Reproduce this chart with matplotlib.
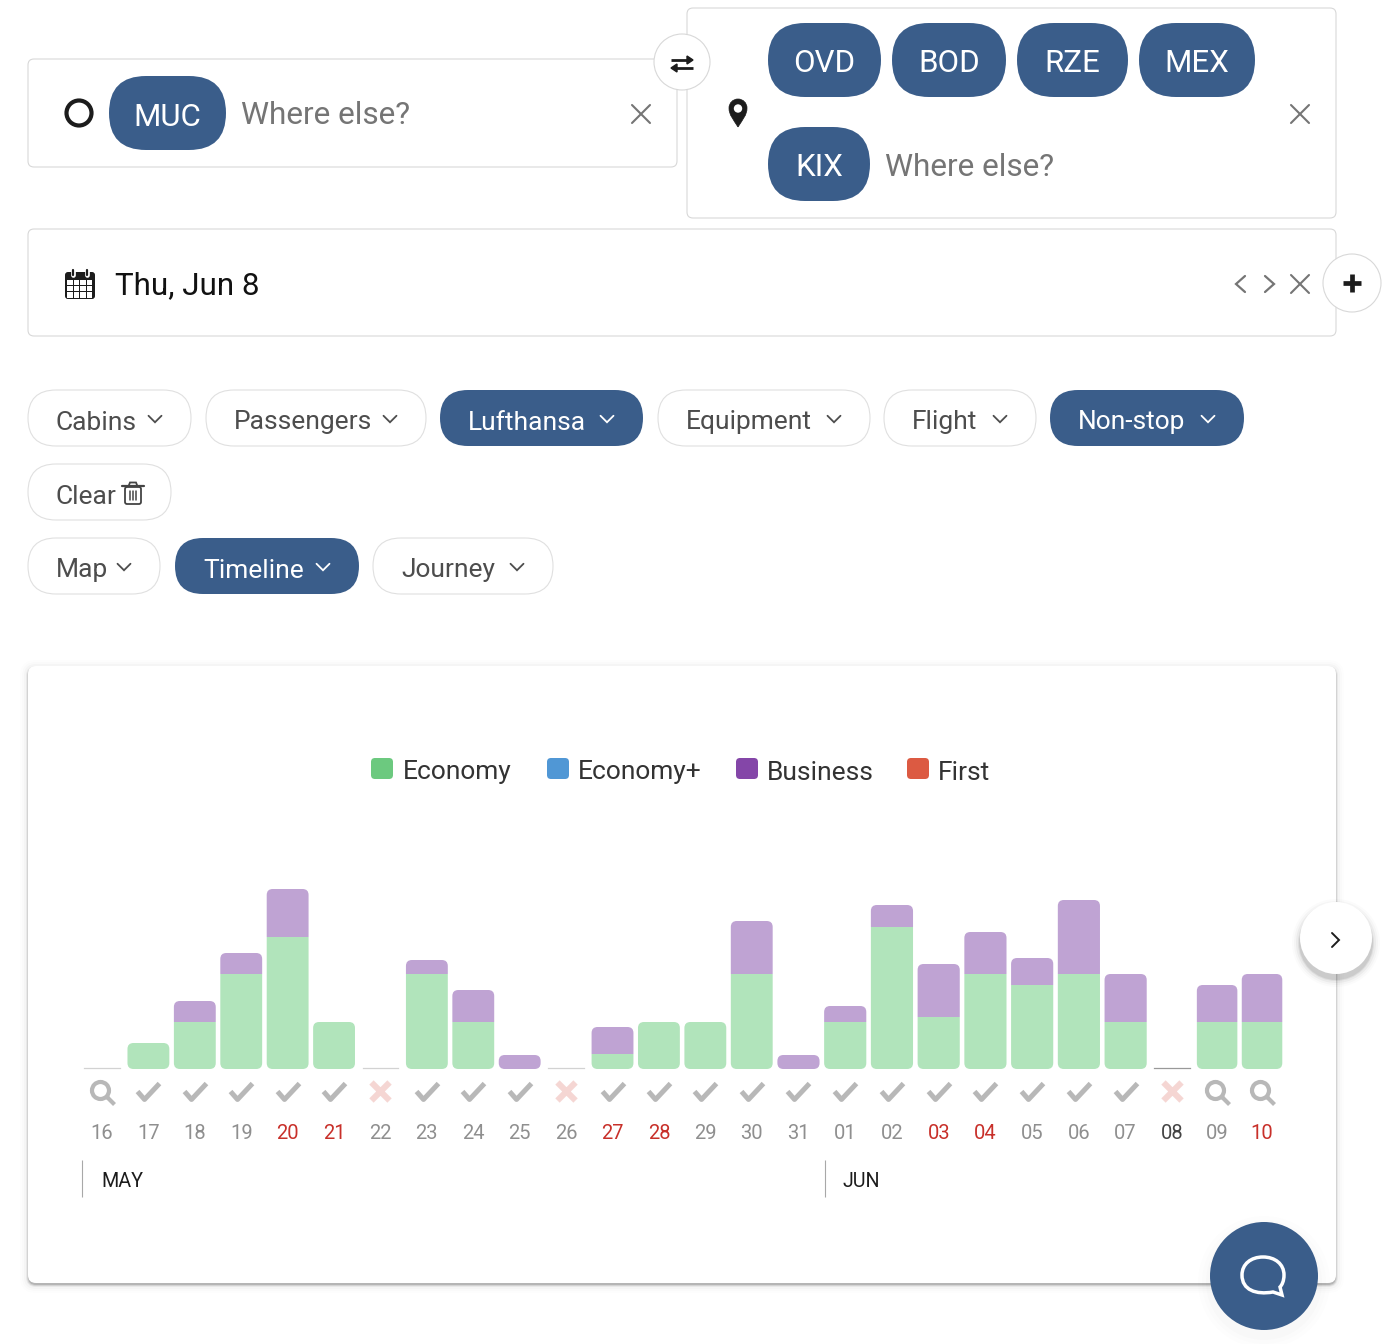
import matplotlib
matplotlib.use('Agg')
import matplotlib.pyplot as plt
import numpy as np
from matplotlib.patches import FancyBboxPatch, Circle, PathPatch, Rectangle
from matplotlib.path import Path

plt.rcParams['font.family'] = ['Roboto', 'DejaVu Sans']

# chart data
days = ['16', '17', '18', '19', '20', '21', '22', '23', '24', '25', '26', '27', '28',
        '29', '30', '31', '01', '02', '03', '04', '05', '06', '07', '08', '09', '10']
economy = [0, 26, 47, 95, 132, 47, 0, 95, 47, 0, 0, 15, 47,
           47, 95, 0, 47, 142, 52, 95, 84, 95, 47, 0, 47, 47]
business = [0, 0, 21, 21, 48, 0, 0, 14, 32, 14, 0, 27, 0,
            0, 53, 14, 16, 22, 53, 42, 27, 74, 48, 0, 37, 48]
status = ['search', 'ok', 'ok', 'ok', 'ok', 'ok', 'none', 'ok', 'ok', 'ok', 'none', 'ok', 'ok',
          'ok', 'ok', 'ok', 'ok', 'ok', 'ok', 'ok', 'ok', 'ok', 'ok', 'none', 'search', 'search']
day_kind = ['n', 'n', 'n', 'n', 'r', 'r', 'n', 'n', 'n', 'n', 'n', 'r', 'r',
            'n', 'n', 'n', 'n', 'n', 'r', 'r', 'n', 'n', 'n', 'sel', 'n', 'r']
cabins = ['Economy', 'Economy+', 'Business', 'First']
cabin_colors = ['#6cc97f', '#5097d5', '#8446a8', '#dc5a42']

BLUE = '#3a5d8a'
BORDER = '#d8d8d8'
GREY = '#757575'
DARK = '#1c1c1c'
W, H = 1382, 1344

fig = plt.figure(figsize=(W / 100, H / 100), dpi=100, facecolor='white')
ui = fig.add_axes([0, 0, 1, 1])
ui.set_xlim(0, W)
ui.set_ylim(H, 0)
ui.axis('off')


def box(x0, y0, x1, y1, r=6, fc='white', ec=BORDER, lw=0.8, z=1, alpha=None):
    p = FancyBboxPatch((x0 + r, y0 + r), x1 - x0 - 2 * r, y1 - y0 - 2 * r,
                       boxstyle='round,pad=%f,rounding_size=%f' % (r, r),
                       fc=fc, ec=ec, lw=lw, zorder=z, alpha=alpha)
    ui.add_patch(p)


def pill(x0, y0, x1, y1, filled=False):
    r = (y1 - y0) / 2
    if filled:
        box(x0, y0, x1, y1, r=r, fc=BLUE, ec='none', z=3)
    else:
        box(x0, y0, x1, y1, r=r, fc='white', ec='#e0e0e0', z=3)


def line(xs, ys, color=DARK, lw=1.5, z=5, cap='round'):
    ui.plot(xs, ys, color=color, lw=lw, zorder=z, solid_capstyle=cap, solid_joinstyle='miter')


def cross(cx, cy, r=9, color=GREY, lw=1.5):
    line([cx - r, cx + r], [cy - r, cy + r], color, lw)
    line([cx - r, cx + r], [cy + r, cy - r], color, lw)


def chevron(cx, cy, color=DARK, s=6.5, lw=1.3):
    line([cx - s, cx, cx + s], [cy - s / 2, cy + s / 2, cy - s / 2], color, lw)


def label(x, y, s, size=22, color=DARK, ha='left'):
    ui.text(x, y, s, fontsize=size, color=color, ha=ha, va='center_baseline', zorder=6)


# search boxes
box(28, 59, 677, 167)
box(687, 8, 1336, 218)
box(28, 229, 1336, 336)
ui.add_patch(Circle((79, 113), 12.5, fc='none', ec=DARK, lw=3, zorder=5))

for x0, y0, x1, code in [(109, 76, 226, 'MUC'), (768, 23, 881, 'OVD'), (892, 23, 1006, 'BOD'),
                         (1017, 23, 1128, 'RZE'), (1139, 23, 1255, 'MEX'), (768, 127, 870, 'KIX')]:
    pill(x0, y0, x1, y0 + 74, True)
    label((x0 + x1) / 2, y0 + 38, code, 22.5, 'white', 'center')
label(241, 113, 'Where else?', 22.8, GREY)
label(885, 165, 'Where else?', 22.8, GREY)
cross(641, 114)
cross(1300, 114)
cross(1300, 284)

# swap button
ui.add_patch(Circle((682, 62), 28, fc='white', ec=BORDER, lw=0.8, zorder=4))
line([671, 688], [60, 60], DARK, 2, cap='butt')
ui.fill([687, 693, 687], [56, 60, 64], color=DARK, zorder=5)
line([676, 693], [68, 68], DARK, 2, cap='butt')
ui.fill([677, 671, 677], [64, 68, 72], color=DARK, zorder=5)

# location pin
pin = Path([(738, 127), (733, 119), (729, 115), (729, 108), (729, 103), (733, 99), (738, 99),
            (743, 99), (747, 103), (747, 108), (747, 115), (743, 119), (738, 127)],
           [Path.MOVETO] + [Path.CURVE4] * 12)
ui.add_patch(PathPatch(pin, fc=DARK, ec=DARK, lw=0.5, zorder=5))
ui.add_patch(Circle((738, 108.5), 4.2, fc='white', ec='none', zorder=6))

# calendar icon
box(65, 272, 95, 299, r=3, fc=DARK, ec='none', z=5)
for col in range(4):
    for row in range(3):
        ui.add_patch(Rectangle((67.5 + col * 6.4, 280 + row * 6.2), 5.3, 5.1, fc='white', ec='none', zorder=6))
for gx in [73, 87]:
    line([gx, gx], [270, 275], 'white', 3.4, z=6)
    line([gx, gx], [270, 275], DARK, 1.6, z=7)
label(115, 283, 'Thu, Jun 8', 22.6, '#111111')
line([1245, 1236, 1245], [276, 284, 292], GREY, 1.6)
line([1265, 1274, 1265], [276, 284, 292], GREY, 1.6)
ui.add_patch(Circle((1352, 283), 29, fc='white', ec=BORDER, lw=0.8, zorder=4))
line([1343, 1361], [283, 283], DARK, 3.4, cap='butt')
line([1352, 1352], [274, 292], DARK, 3.4, cap='butt')

# filter pills
for x0, y0, x1, text, filled in [(28, 390, 191, 'Cabins', False), (206, 390, 426, 'Passengers', False),
                                 (440, 390, 643, 'Lufthansa', True), (658, 390, 870, 'Equipment', False),
                                 (884, 390, 1036, 'Flight', False), (1050, 390, 1244, 'Non-stop', True),
                                 (28, 538, 160, 'Map', False), (175, 538, 359, 'Timeline', True),
                                 (373, 538, 553, 'Journey', False)]:
    pill(x0, y0, x1, y0 + 56, filled)
    col = 'white' if filled else '#4d4d4d'
    label(x0 + 28, y0 + 30, text, 19, col)
    chevron(x1 - 36, y0 + 29, col)
pill(28, 464, 171, 520)
label(56, 494, 'Clear', 19, '#4d4d4d')
box(125, 487, 141, 504, r=2, fc='none', ec='#444444', lw=1.3, z=5)
line([122, 144], [486, 486], '#444444', 1.6)
line([129, 130, 136, 137], [485, 482.5, 482.5, 485], '#444444', 1.3)
for gx in [130, 133, 136]:
    line([gx, gx], [491, 500], '#444444', 1.1)

# chart card with a soft shadow
for d, a in [(8, 0.008), (6, 0.012), (4, 0.02), (2, 0.05), (1, 0.09), (0, 0.14)]:
    box(28 - d, 666 - d + 2, 1336 + d, 1283 + d + 2, r=8 + d, fc='black', ec='none', z=0.5, alpha=a)
box(28, 666, 1336, 1283, r=8, fc='white', ec='none', z=1)

# legend
for lx, tx, name, c in zip([371, 547, 736, 907], [403, 578, 767, 938], cabins, cabin_colors):
    box(lx, 758, lx + 22, 779, r=4, fc=c, ec='none', z=3)
    label(tx, 770, name, 19, '#333333')

# month markers
for vx, tx, month in [(82, 101, 'MAY'), (825, 843, 'JUN')]:
    line([vx, vx], [1160, 1197], '#a8a8a8', 0.8, cap='butt')
    label(tx, 1179.5, month, 14.2, DARK)

# next button
for r, a in [(44, 0.015), (42, 0.025), (40, 0.04), (38, 0.06), (37, 0.08)]:
    ui.add_patch(Circle((1336, 943), r, fc='black', ec='none', alpha=a, zorder=3))
ui.add_patch(Circle((1336, 938), 36, fc='white', ec='none', zorder=4))
line([1332, 1339, 1332], [933, 940, 947], DARK, 1.4)

# chat button
for r, a in [(66, 0.006), (62, 0.008), (58, 0.012)]:
    ui.add_patch(Circle((1264, 1282), r, fc='black', ec='none', alpha=a, zorder=2))
ui.add_patch(Circle((1264, 1276), 54, fc=BLUE, ec='none', zorder=5))
bubble = Path([(1273, 1292),
               (1256, 1295), (1242, 1290), (1242, 1275),
               (1242, 1264), (1251, 1257), (1263, 1257),
               (1275, 1257), (1284, 1264), (1284, 1275),
               (1284, 1281), (1282, 1285), (1280, 1287),
               (1282, 1295), (1273, 1292), (1273, 1292)],
              [Path.MOVETO] + [Path.CURVE4] * 12 + [Path.LINETO, Path.LINETO, Path.CLOSEPOLY])
ui.add_patch(PathPatch(bubble, fc='none', ec='white', lw=2.5, zorder=6))

# chart axes: one x unit is one day slot, one y unit is one pixel of bar height
px_day = 46.55
x_left, x_right, y_top, y_base = 79, 1290, 860, 1069
ax = fig.add_axes([x_left / W, 1 - y_base / H, (x_right - x_left) / W, (y_base - y_top) / H])
ax.set_xlim((x_left - 102) / px_day, (x_right - 102) / px_day)
ax.set_ylim(0, y_base - y_top)
ax.patch.set_visible(False)
for s in ax.spines.values():
    s.set_visible(False)
ax.set_yticks([])

# day slots are not quite even in the picture, the last two are narrower
slots = np.ones(len(days))
slots[1:15] = 0.997
slots[15:23] = 1.004
slots[-2:] = 0.965
xpos = np.concatenate([[0], np.cumsum(slots[1:])])


def rounded_bar(x, y0, y1, width, color, round_top, round_bottom):
    rx, ry = 6 / px_day, 6
    l, r = x - width / 2, x + width / 2
    ry_b = min(ry, (y1 - y0) / 2)
    verts = [(l, y0 + (ry_b if round_bottom else 0))]
    codes = [Path.MOVETO]
    if round_top:
        verts += [(l, y1 - ry_b), (l, y1), (l + rx, y1), (r - rx, y1), (r, y1), (r, y1 - ry_b)]
        codes += [Path.LINETO, Path.CURVE3, Path.CURVE3, Path.LINETO, Path.CURVE3, Path.CURVE3]
    else:
        verts += [(l, y1), (r, y1)]
        codes += [Path.LINETO, Path.LINETO]
    if round_bottom:
        verts += [(r, y0 + ry_b), (r, y0), (r - rx, y0), (l + rx, y0), (l, y0), (l, y0 + ry_b)]
        codes += [Path.LINETO, Path.CURVE3, Path.CURVE3, Path.LINETO, Path.CURVE3, Path.CURVE3]
    else:
        verts += [(r, y0), (l, y0)]
        codes += [Path.LINETO, Path.LINETO]
    ax.add_patch(PathPatch(Path(verts, codes), fc=color, ec='none'))


for x, sl, e, b, kind in zip(xpos, slots, economy, business, day_kind):
    w = 0.902 * sl
    if e == 0 and b == 0:
        ax.plot([x - 0.38, x + 0.38], [0.8, 0.8], color='#999999' if kind == 'sel' else '#d2d2d2',
                lw=0.9, clip_on=False)
        continue
    if e > 0:
        rounded_bar(x, 0, e, w, '#b1e4bb', b == 0, True)
    if b > 0:
        rounded_bar(x, e, e + b, w, '#bfa3d3', True, e == 0)

ax.set_xticks(xpos)
ax.set_xticklabels(days)
kind_colors = {'n': '#8f8f8f', 'r': '#c8302a', 'sel': '#444444'}
ax.tick_params(axis='x', length=0, pad=39.5, labelsize=14.5)
for tick, kind in zip(ax.get_xticklabels(), day_kind):
    tick.set_color(kind_colors[kind])

# status icons under each bar
check = Path([(-11, 1), (-4, -7), (11, 9)], [Path.MOVETO, Path.LINETO, Path.LINETO])
nope = Path([(-9, -9), (9, 9), (-9, 9), (9, -9)], [Path.MOVETO, Path.LINETO, Path.MOVETO, Path.LINETO])
loupe = Path.make_compound_path(
    Path.circle((-2, 2), 8.5),
    Path([(4, -4), (12, -12)], [Path.MOVETO, Path.LINETO]))
icons = {'ok': (check, '#b8b8b8', 3.6, 15.8, -23),
         'none': (nope, '#f5d6d3', 4.4, 13.0, -22),
         'search': (loupe, '#b8b8b8', 3.0, 17.3, -23)}
for kind, (mk, col, mew, ms, yy) in icons.items():
    xs = [x for x, st in zip(xpos, status) if st == kind]
    ax.plot(xs, [yy] * len(xs), ls='none', marker=mk, ms=ms, mfc='none', mec=col, mew=mew, clip_on=False)

fig.savefig('out.png', dpi=100, facecolor='white')
